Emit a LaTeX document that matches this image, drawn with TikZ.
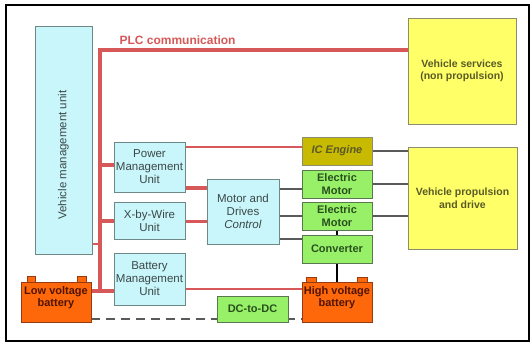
\documentclass[tikz,border=0pt]{standalone}
\usepackage{fontspec}
\setmainfont{Liberation Sans}
\usetikzlibrary{calc}
\pgfdeclarelayer{back}
\pgfdeclarelayer{bg}
\pgfsetlayers{back,bg,main}
\definecolor{cyanf}{RGB}{200,246,250}
\definecolor{cyand}{RGB}{110,135,135}
\definecolor{greenf}{RGB}{152,240,104}
\definecolor{greend}{RGB}{90,120,80}
\definecolor{olivef}{RGB}{200,186,0}
\definecolor{orangef}{RGB}{255,104,10}
\definecolor{orangedr}{RGB}{150,60,20}
\definecolor{yellowf}{RGB}{255,255,104}
\definecolor{yellowd}{RGB}{140,140,110}
\definecolor{redl}{RGB}{215,88,88}
\definecolor{txtc}{RGB}{60,72,72}
\definecolor{txty}{RGB}{90,90,40}
\definecolor{txtg}{RGB}{40,80,30}
\definecolor{txto}{RGB}{80,20,0}
\definecolor{grayl}{RGB}{90,90,90}
\tikzset{
  box/.style={draw, line width=1pt, inner sep=0pt, outer sep=0pt, align=center},
  cbox/.style={box, fill=cyanf, draw=cyand, text=txtc, font=\fontsize{11.5}{13}\selectfont},
  gbox/.style={box, fill=greenf, draw=greend, text=txtg, font=\bfseries\fontsize{11}{13}\selectfont},
  obox/.style={box, fill=olivef, draw=yellowd, text=txty, font=\bfseries\itshape\fontsize{11}{13}\selectfont},
  ybox/.style={box, fill=yellowf, draw=yellowd, text=txty, font=\bfseries\fontsize{10.5}{12.5}\selectfont},
  batbox/.style={box, fill=orangef, draw=orangedr, text=txto, font=\bfseries\fontsize{11}{12}\selectfont},
  term/.style={fill=orangef, draw=orangedr, line width=0.6pt},
  redthick/.style={draw=redl, line width=3.5pt},
  redmid/.style={draw=redl, line width=2.5pt},
  redthin/.style={draw=redl, line width=2pt},
  grayline/.style={draw=grayl, line width=1.2pt},
}
\begin{document}
\begin{tikzpicture}[x=1pt,y=-1pt]
\useasboundingbox (0,0) rectangle (531,343);
\begin{pgfonlayer}{back}
\fill[white] (0,0) rectangle (531,343);
\end{pgfonlayer}
\draw[line width=2pt] (6,5) rectangle (529,341);

% nodes
\node[cbox, minimum width=57pt, minimum height=228pt] (vmu) at (63.5,140) {};
\node[txtc, rotate=90, font=\fontsize{11.5}{13}\selectfont] (vmutxt) at (63.5,155) {Vehicle management unit};
\node[ybox, minimum width=108pt, minimum height=106pt] (vs) at (462,71) {Vehicle services\\(non propulsion)};
\node[ybox, minimum width=109pt, minimum height=102pt] (vp) at (462.5,198) {Vehicle propulsion\\and drive};
\node[obox, minimum width=70pt, minimum height=28pt] (ice) at (337,151) {IC Engine};
\node[gbox, minimum width=70pt, minimum height=28pt] (em1) at (337,184) {Electric\\Motor};
\node[gbox, minimum width=70pt, minimum height=28pt] (em2) at (337,216) {Electric\\Motor};
\node[gbox, minimum width=70pt, minimum height=28pt] (conv) at (337,249) {Converter};
\node[cbox, minimum width=71pt, minimum height=50pt] (pmu) at (149.5,167) {Power\\Management\\Unit};
\node[cbox, minimum width=71pt, minimum height=37pt] (xbw) at (149.5,220.5) {X-by-Wire\\Unit};
\node[cbox, minimum width=71pt, minimum height=52pt] (bmu) at (149.5,279) {Battery\\Management\\Unit};
\node[cbox, minimum width=72pt, minimum height=65pt] (mdc) at (243,211.5) {Motor and\\Drives\\\textit{Control}};
\node[gbox, font=\bfseries\fontsize{11}{13}\selectfont, minimum width=71pt, minimum height=26pt] (dcdc) at (252.5,309) {DC-to-DC};

% batteries
\draw[term] (27,276) rectangle (35,283);
\draw[term] (77,276) rectangle (86,283);
\node[batbox, minimum width=70pt, minimum height=40pt] (lvb) at (56,302) {Low voltage\\battery\\[-2pt]};
\draw[term] (306,277) rectangle (316,283);
\draw[term] (357,277) rectangle (367,283);
\node[batbox, minimum width=70pt, minimum height=40pt] (hvb) at (337,302) {High voltage\\battery\\[-2pt]};

\node[text=redl, font=\bfseries\fontsize{12}{14}\selectfont, anchor=west] (plc) at (116,40) {PLC communication};

\coordinate (bustop) at (100,50);
\coordinate (busbot) at (100,291);

\begin{pgfonlayer}{bg}
  % PLC bus
  \draw[redthick, line cap=rect] (busbot) -- (bustop) -- (bustop -| vs.west);
  \draw[redthin] (vmu.east |- 0,244) -- (bustop |- 0,244);
  \draw[redthick] (bustop |- 0,165) -- (pmu.west |- 0,165);
  \draw[redthick] (bustop |- 0,221) -- (xbw.west |- 0,221);
  \draw[redthick] (lvb.east |- busbot) -- (bmu.west |- busbot);
  % unit links
  \draw[redmid] (pmu.east |- 0,147) -- (ice.west |- 0,147);
  \draw[redthick] (pmu.east |- 0,188) -- (mdc.west |- 0,188);
  \draw[redthick] (xbw.east |- 0,221.5) -- (mdc.west |- 0,221.5);
  \draw[redmid] (bmu.east |- 0,289) -- (hvb.west |- 0,289);
  % mechanical / drive links
  \draw[grayline] (mdc.east |- 0,189) -- (em1.west |- 0,189);
  \draw[grayline] (mdc.east |- 0,216) -- (em2.west |- 0,216);
  \draw[grayline] (mdc.east |- 0,239) -- (conv.west |- 0,239);
  \draw[grayline] (ice.east) -- (vp.west |- ice.east);
  \draw[grayline] (em1.east) -- (vp.west |- em1.east);
  \draw[grayline] (em2.east) -- (vp.west |- em2.east);
  \draw[black, line width=1.5pt] (em2.south) -- (conv.north);
  \draw[black, line width=2pt] (conv.south) -- (hvb.north);
  % dashed low-voltage link
  \draw[draw=grayl, line width=2pt, dash pattern=on 9pt off 6pt] (lvb.east |- 0,319) -- (hvb.west |- 0,319);
\end{pgfonlayer}
\end{tikzpicture}
\end{document}
